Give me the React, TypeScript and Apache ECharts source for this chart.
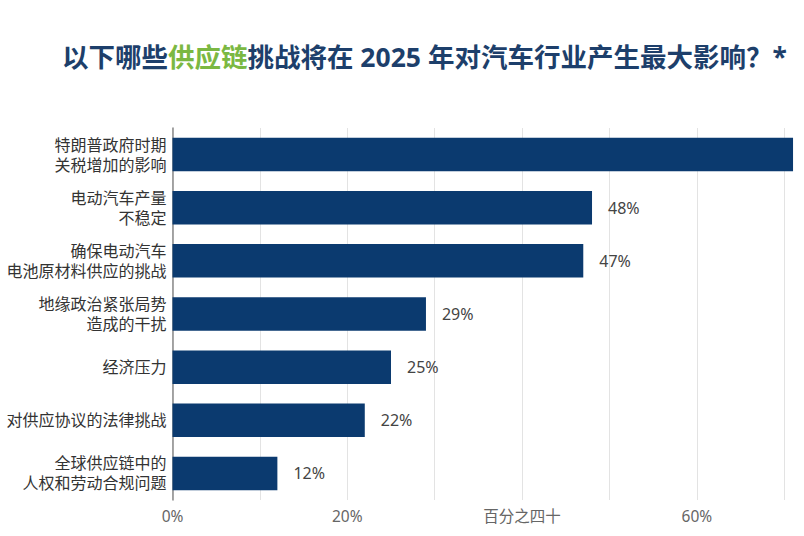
import React, { useEffect, useRef } from "react";
import * as echarts from "echarts";

const categories = [
  "特朗普政府时期\n关税增加的影响",
  "电动汽车产量\n不稳定",
  "确保电动汽车\n电池原材料供应的挑战",
  "地缘政治紧张局势\n造成的干扰",
  "经济压力",
  "对供应协议的法律挑战",
  "全球供应链中的\n人权和劳动合规问题",
];
const values = [71, 48, 47, 29, 25, 22, 12];
const tickLabels: Record<number, string> = { 0: "0%", 20: "20%", 40: "百分之四十", 60: "60%" };
// the top bar runs past the picture's right edge, so its value label is not shown there
const hiddenLabelIndex = 0;

const FONT = "'Noto Sans', 'Noto Sans CJK SC', sans-serif";

export default function App() {
  const ref = useRef<HTMLDivElement>(null);
  useEffect(() => {
    if (!ref.current) return;
    const chart = echarts.init(ref.current, null, { renderer: "svg" });
    chart.setOption({
      animation: false,
      backgroundColor: "#ffffff",
      textStyle: { fontFamily: FONT },
      title: {
        left: 57,
        top: 39,
        text: "{a|以下哪些}{g|供应链}{a|挑战将在 2025 年对汽车行业产生最大影响？*}",
        textStyle: {
          rich: {
            a: { fontSize: 26.5, fontWeight: "bold", color: "#1d3f6b", fontFamily: FONT },
            g: { fontSize: 26.5, fontWeight: "bold", color: "#7bb842", fontFamily: FONT },
          },
        },
      },
      grid: { left: 172.5, top: 128, height: 372, right: 28.3 },
      xAxis: {
        type: "value",
        min: 0,
        max: 80,
        interval: 10,
        axisLine: { show: false },
        axisTick: { show: false },
        splitLine: { show: true, lineStyle: { color: "#e3e3e3", width: 1 } },
        axisLabel: {
          margin: 8,
          fontSize: 15.5,
          color: "#666666",
          fontFamily: FONT,
          formatter: (v: number) => tickLabels[v] ?? "",
        },
      },
      yAxis: {
        type: "category",
        data: categories,
        inverse: true,
        axisLine: { show: true, lineStyle: { color: "#8a8a8a", width: 1.5 } },
        axisTick: { show: false },
        axisLabel: {
          margin: 6,
          fontSize: 16,
          lineHeight: 20,
          color: "#333333",
          align: "right",
          fontFamily: FONT,
        },
      },
      series: [
        {
          type: "bar",
          data: values.map((v, i) =>
            i === hiddenLabelIndex ? { value: v, label: { show: false } } : v
          ),
          barCategoryGap: "37%",
          itemStyle: { color: "#0b3a6f" },
          label: {
            show: true,
            position: "right",
            distance: 16,
            fontSize: 16,
            color: "#444444",
            fontFamily: FONT,
            formatter: "{c}%",
          },
        },
      ],
    });
    return () => chart.dispose();
  }, []);
  return (
    <div
      style={{
        position: "fixed",
        left: 0,
        top: 0,
        width: 804,
        height: 536,
        overflow: "hidden",
        background: "#fff",
      }}
    >
      <div ref={ref} style={{ width: 900, height: 536 }} />
    </div>
  );
}
